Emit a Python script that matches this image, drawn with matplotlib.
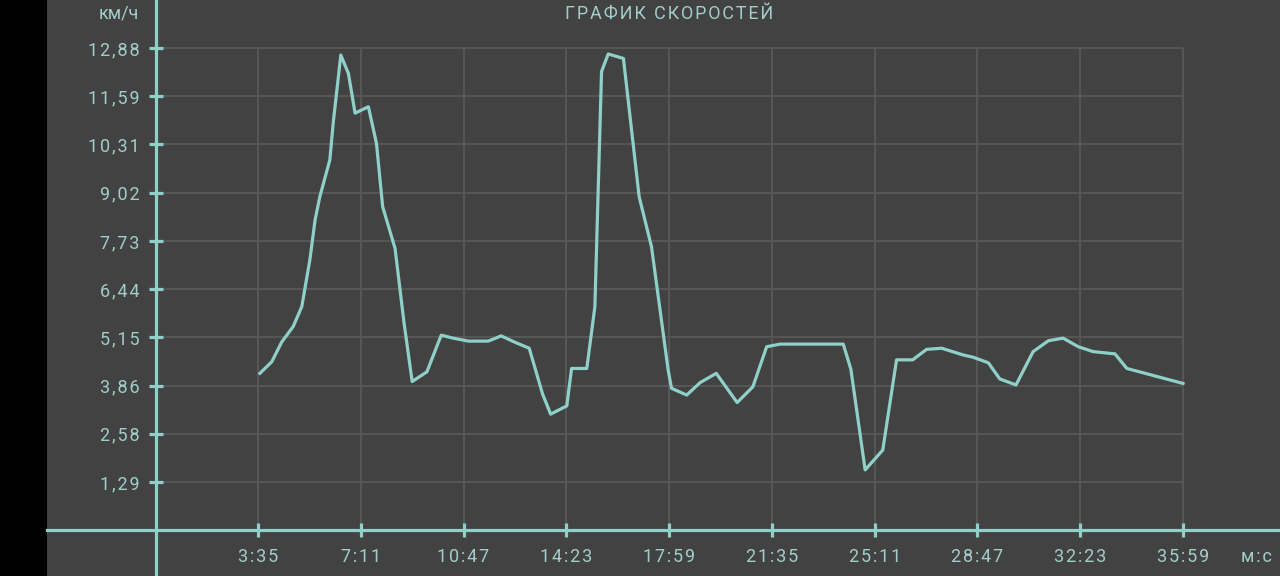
import numpy as np
import matplotlib.pyplot as plt

# time in seconds, speed in km/h
t_sec = [219, 244, 265, 289, 307, 324, 335, 345, 366, 373, 389, 405, 419, 447, 464,
         477, 503, 522, 539, 570, 600, 625, 657, 699, 726, 755, 785, 813, 830, 864,
         874, 906, 923, 937, 951, 983, 1016, 1042, 1077, 1084, 1116, 1144, 1178, 1222,
         1255, 1284, 1312, 1445, 1461, 1491, 1528, 1557, 1591, 1620, 1652, 1697, 1718,
         1750, 1774, 1808, 1844, 1876, 1907, 1939, 1970, 2016, 2041, 2159]
speed = [4.19, 4.50, 5.03, 5.44, 5.97, 7.22, 8.29, 8.91, 9.89, 10.87, 12.69, 12.20, 11.14,
         11.31, 10.33, 8.64, 7.53, 5.53, 3.97, 4.23, 5.21, 5.13, 5.05, 5.05, 5.19, 5.02,
         4.86, 3.64, 3.10, 3.32, 4.32, 4.32, 5.97, 12.25, 12.72, 12.60, 8.91, 7.57, 4.28,
         3.79, 3.61, 3.94, 4.19, 3.41, 3.83, 4.90, 4.97, 4.97, 4.30, 1.61, 2.14, 4.55,
         4.55, 4.83, 4.86, 4.68, 4.62, 4.47, 4.04, 3.88, 4.77, 5.06, 5.13, 4.90, 4.77,
         4.71, 4.32, 3.92]

x_ticks = [215, 431, 647, 863, 1079, 1295, 1511, 1727, 1943, 2159]
x_labels = ['3:35', '7:11', '10:47', '14:23', '17:59', '21:35', '25:11', '28:47', '32:23', '35:59']
y_ticks = [1.288 * k for k in range(1, 11)]
y_labels = ['1,29', '2,58', '3,86', '5,15', '6,44', '7,73', '9,02', '10,31', '11,59', '12,88']

bg = '#424242'
teal = '#8fd0c8'
txt = '#a3cdc8'
grid_c = '#595959'


def spaced(s):
    # the app draws its text with some letter spacing
    return '\u200a'.join(s)


plt.rcParams['font.family'] = ['Roboto', 'DejaVu Sans']

fig = plt.figure(figsize=(12.8, 5.76), dpi=100, facecolor='black')
ax = fig.add_axes([47 / 1280, 0, 1233 / 1280, 1])
ax.set_facecolor(bg)

pxs = 925 / 1944          # pixels per second
pxv = 434 / 11.592        # pixels per km/h
ax.set_xlim((47 - 155.7) / pxs, (1280 - 155.7) / pxs)
ax.set_ylim((530.2 - 576) / pxv, 530.2 / pxv)

# grid limited to the data area
ax.hlines(y_ticks, 0, x_ticks[-1], color=grid_c, lw=1.3, zorder=1)
ax.vlines(x_ticks, 0, y_ticks[-1], color=grid_c, lw=1.3, zorder=1)

ax.plot(t_sec, speed, color=teal, lw=2.3, zorder=3)

for s in ['top', 'right']:
    ax.spines[s].set_visible(False)
for s in ['left', 'bottom']:
    ax.spines[s].set_position(('data', 0))
    ax.spines[s].set_color(teal)
    ax.spines[s].set_linewidth(2.3)
    ax.spines[s].set_zorder(4)

ax.set_xticks(x_ticks, [spaced(l) for l in x_labels])
ax.set_yticks(y_ticks, [spaced(l) for l in y_labels])
ax.tick_params(axis='both', direction='inout', length=10, width=2.3, color=teal,
               labelcolor=txt, labelsize=13)
ax.tick_params(axis='y', pad=6.5)
ax.tick_params(axis='x', pad=8)

fig.text(139 / 1280, 1 - 14 / 576, 'км/ч', color=txt, fontsize=13, ha='right', va='center')
fig.text(1272 / 1280, 1 - 557 / 576, spaced('м:с'), color=txt, fontsize=13, ha='right', va='center')
fig.text(669 / 1280, 1 - 13.5 / 576, spaced('ГРАФИК СКОРОСТЕЙ'), color=txt, fontsize=13,
         ha='center', va='center')

fig.savefig('out.png', dpi=100, facecolor='black')
